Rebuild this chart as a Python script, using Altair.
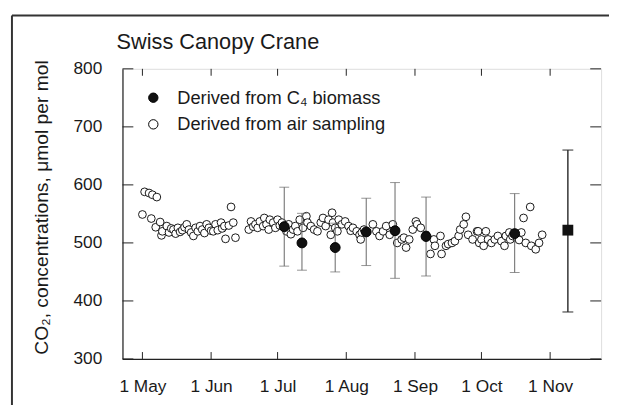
import altair as alt
import pandas as pd

# ---------------- data (day of year, CO2 in umol/mol) ----------------
air_doy = [121, 122, 124, 125, 125.5, 127, 127.5, 129, 129.6, 130, 132, 133, 134, 135, 136, 137, 138, 139,
           140, 141, 142, 143, 144, 145, 146, 147, 148, 149, 150, 151, 152, 153, 154, 155, 156.5, 157, 158,
           158.5, 160, 161, 162, 163,
           169, 170, 171, 172, 173, 174, 175.5, 176, 177, 178, 178.5, 180, 181, 182, 183, 184, 186, 187,
           188, 189, 190, 191, 192, 193.5, 195, 195.5, 197, 198.5, 200, 201.5, 202.5, 203.7, 205, 206,
           206.6, 207, 208, 209, 209.6, 211, 212.5, 214, 215, 216, 217.7, 219,
           219.5, 220, 221, 225, 226.6, 228, 229.6, 231, 232.6, 234, 236, 238, 239, 240, 241.4, 243, 244.4,
           245, 246.6, 249, 251, 252.5, 253, 255.5, 256, 258, 259, 260.7, 262, 263.7, 264.4, 266, 267,
           268, 270, 272, 272.5, 273, 274, 275, 276, 277, 278.5, 280, 281.4, 283, 284.4, 285, 286.6, 287,
           288, 290, 291, 292, 293, 294, 296, 296.5, 298.5, 300, 301.4]
air_co2 = [549, 588, 586, 542, 583, 527, 579, 536, 513, 520, 529, 518, 525, 523, 516, 526, 519, 522,
           527, 532, 523, 518, 512, 526, 520, 529, 523, 517, 532, 526, 521, 520, 532, 522, 535, 525, 529,
           507, 530, 562, 535, 509,
           523, 537, 528, 532, 526, 537, 529, 543, 532, 523, 540, 535, 526, 540, 530, 535, 520, 532,
           515, 523, 529, 520, 540, 526, 546, 535, 529, 523, 520, 535, 543, 529, 540, 514,
           552, 535, 526, 520, 540, 532, 537, 529, 521, 526, 520, 514,
           506, 518, 523, 532, 520, 512, 520, 529, 514, 532, 500, 506, 509, 492, 506, 523, 537,
           532, 526, 514, 481, 506, 495, 512, 481, 495, 498, 500, 503, 512, 523, 532, 545,
           514, 506, 520, 520, 500, 506, 495, 520, 506, 500, 506, 512, 503, 495, 512, 518, 506,
           512, 509, 505, 518, 543, 500, 562, 495, 489, 500, 514]

c4_doy = [185, 193, 208, 222, 235, 249, 289]
c4_co2 = [528, 500, 492, 519, 521, 511, 516]
c4_lo = [460, 453, 450, 461, 439, 443, 449]
c4_hi = [596, 551, 534, 577, 604, 579, 585]

mean_doy = [313]
mean_co2 = [522]
mean_lo = [381]
mean_hi = [660]

month_doy = [121, 152, 182, 213, 244, 274, 305]
month_lab = ["1 May", "1 Jun", "1 Jul", "1 Aug", "1 Sep", "1 Oct", "1 Nov"]
y_ticks = [300, 400, 500, 600, 700, 800]

TITLE = "Swiss Canopy Crane"
S_C4 = "Derived from C\u2084 biomass"
S_AIR = "Derived from air sampling"

# ---------------- frames ----------------
air = pd.DataFrame({"doy": air_doy, "val": air_co2, "series": S_AIR})
c4 = pd.DataFrame({"doy": c4_doy, "val": c4_co2, "lo": c4_lo, "hi": c4_hi, "series": S_C4})
mean = pd.DataFrame({"doy": mean_doy, "val": mean_co2, "lo": mean_lo, "hi": mean_hi})
xt = pd.DataFrame({"doy": month_doy})
yt = pd.DataFrame({"val": y_ticks})
one = pd.DataFrame({"t": [TITLE]})

W, H = 485, 294
FONT = "Liberation Sans"
INK = "#1a1a1a"

label_expr = "".join(f"datum.value == {d} ? '{l}' : " for d, l in zip(month_doy, month_lab)) + "''"

xs = alt.Scale(domain=[112, 328], nice=False, zero=False)
ys = alt.Scale(domain=[300, 800], nice=False, zero=False)

x_axis = alt.Axis(values=month_doy, labelExpr=label_expr, title=None, ticks=False, tickSize=0,
                  grid=False, domain=True, domainColor="#222", domainWidth=1.2,
                  labelFont=FONT, labelFontSize=17.5, labelColor=INK, labelPadding=19,
                  labelFlush=False, labelOverlap=False)
y_axis = alt.Axis(values=y_ticks, format="d", title="CO\u2082, concentrations, \u03bcmol per mol",
                  ticks=False, tickSize=0, grid=False, domain=True, domainColor="#222", domainWidth=1.2,
                  labelFont=FONT, labelFontSize=17.5, labelColor=INK, labelPadding=21,
                  titleFont=FONT, titleFontSize=19.5, titleFontWeight="normal", titleColor=INK,
                  titleX=-82, titleY=140, titleAngle=270, titleAlign="center", titleBaseline="middle")

X = lambda f="doy": alt.X(f"{f}:Q", scale=xs, axis=x_axis)
Y = lambda f="val": alt.Y(f"{f}:Q", scale=ys, axis=y_axis)

fill_enc = alt.Fill("series:N",
                    scale=alt.Scale(domain=[S_C4, S_AIR], range=["#111111", "white"]),
                    legend=alt.Legend(orient="none", legendX=22, legendY=20, title=None,
                                      labelFont=FONT, labelFontSize=18.5, labelColor=INK,
                                      symbolType="circle", symbolSize=90, symbolStrokeColor="black",
                                      symbolStrokeWidth=1, labelOffset=15, rowPadding=8,
                                      padding=0, labelLimit=400))

# decorative figure frame (left and top edges)
frame_left = alt.Chart(one).mark_rule(color="#333", strokeWidth=2).encode(
    x=alt.value(-112), y=alt.value(-54), y2=alt.value(H + 60))
frame_top = alt.Chart(one).mark_rule(color="#333", strokeWidth=2).encode(
    x=alt.value(-112), x2=alt.value(W + 20), y=alt.value(-54))

# chart title as text
title = alt.Chart(one).mark_text(align="left", baseline="alphabetic", font=FONT, fontSize=22,
                                 color=INK).encode(text="t:N", x=alt.value(-6), y=alt.value(-20))

# inward ticks
tick_l = alt.Chart(yt).mark_rule(color="#222", strokeWidth=1).encode(
    y=Y(), x=alt.value(0), x2=alt.value(11))
tick_r = alt.Chart(yt).mark_rule(color="#222", strokeWidth=1).encode(
    y=Y(), x=alt.value(W - 11), x2=alt.value(W))
tick_b = alt.Chart(xt).mark_rule(color="#222", strokeWidth=1).encode(
    x=X(), y=alt.value(H), y2=alt.value(H - 7))
tick_t = alt.Chart(xt).mark_rule(color="#222", strokeWidth=1).encode(
    x=X(), y=alt.value(0), y2=alt.value(7))

air_pts = alt.Chart(air).mark_point(shape="circle", filled=True, size=62, stroke="black",
                                    strokeWidth=0.9, opacity=1).encode(x=X(), y=Y(), fill=fill_enc)

c4_bar = alt.Chart(c4).mark_rule(color="#666", strokeWidth=1).encode(x=X(), y=Y("lo"), y2="hi:Q")
c4_cap_lo = alt.Chart(c4).mark_tick(orient="horizontal", size=10, thickness=1, color="#666").encode(
    x=X(), y=Y("lo"))
c4_cap_hi = alt.Chart(c4).mark_tick(orient="horizontal", size=10, thickness=1, color="#666").encode(
    x=X(), y=Y("hi"))
c4_pts = alt.Chart(c4).mark_point(shape="circle", filled=True, size=100, stroke="black",
                                  strokeWidth=1, opacity=1).encode(x=X(), y=Y(), fill=fill_enc)

m_bar = alt.Chart(mean).mark_rule(color="#333", strokeWidth=1.5).encode(x=X(), y=Y("lo"), y2="hi:Q")
m_cap_lo = alt.Chart(mean).mark_tick(orient="horizontal", size=11, thickness=1.5, color="#333").encode(
    x=X(), y=Y("lo"))
m_cap_hi = alt.Chart(mean).mark_tick(orient="horizontal", size=11, thickness=1.5, color="#333").encode(
    x=X(), y=Y("hi"))
m_pt = alt.Chart(mean).mark_square(size=120, color="#111", opacity=1).encode(x=X(), y=Y())

chart = alt.layer(
    frame_left, frame_top, title, tick_l, tick_r, tick_b, tick_t,
    air_pts, c4_bar, c4_cap_lo, c4_cap_hi, c4_pts, m_bar, m_cap_lo, m_cap_hi, m_pt
).properties(
    width=W, height=H,
    autosize=alt.AutoSizeParams(type="none"),
    padding={"left": 116, "top": 59, "right": 8, "bottom": 44},
).configure_view(stroke="#555", strokeWidth=1).configure(background="white")

chart.save("out.html", embed_options={"renderer": "svg", "actions": False})
